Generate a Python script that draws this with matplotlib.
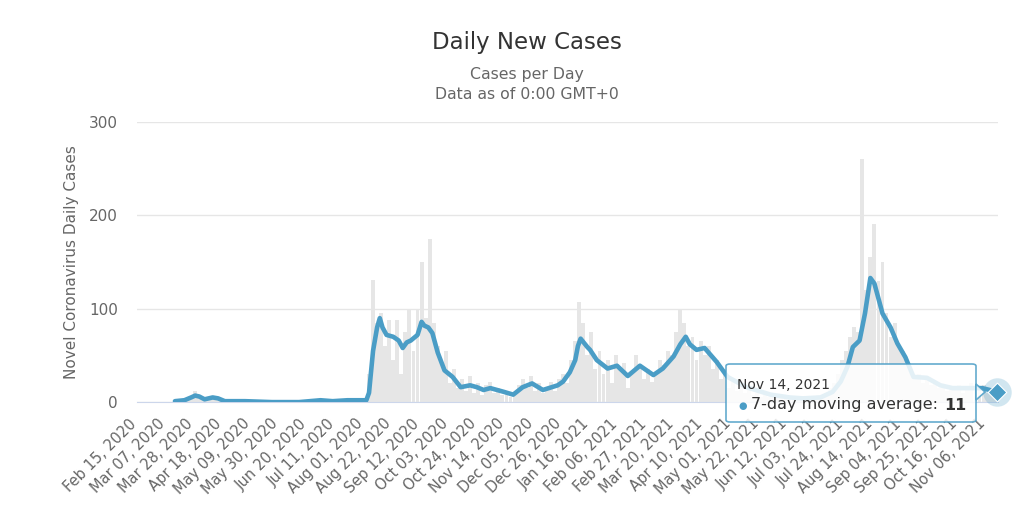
import numpy as np
import pandas as pd
import matplotlib
matplotlib.use('Agg')
import matplotlib.pyplot as plt
import matplotlib.transforms as mtransforms
from matplotlib.patches import FancyBboxPatch, Polygon

# data; days counted from start_date
start_date = '2020-02-15'
end_day = 638
bar_step = 3  # bars are 3-day bins
bar_values = [
    0, 0, 0, 0, 0, 0, 0, 0, 0, 0, 1, 2, 3, 6, 12, 5, 2, 4, 6, 3,
    2, 1, 1, 0, 1, 0, 0, 1, 0, 0, 0, 0, 1, 0, 0, 0, 0, 0, 0, 1,
    0, 0, 0, 0, 2, 1, 1, 2, 0, 1, 2, 1, 1, 2, 2, 1, 3, 30, 131, 85,
    95, 60, 88, 45, 88, 30, 75, 100, 55, 100, 150, 90, 175, 85, 60, 40, 55, 20, 35, 15,
    25, 12, 28, 10, 20, 8, 18, 22, 10, 15, 8, 12, 5, 10, 18, 25, 15, 28, 12, 20,
    10, 15, 22, 12, 25, 30, 20, 45, 65, 107, 85, 50, 75, 35, 55, 30, 45, 20, 50, 35,
    42, 15, 30, 50, 40, 25, 35, 22, 30, 45, 40, 55, 50, 75, 100, 85, 60, 70, 45, 65,
    50, 60, 35, 45, 25, 35, 15, 22, 12, 18, 10, 14, 8, 10, 6, 8, 5, 6, 4, 5,
    3, 5, 4, 3, 5, 3, 6, 4, 8, 6, 10, 15, 20, 30, 45, 55, 70, 80, 75, 260,
    120, 155, 191, 130, 150, 95, 70, 85, 60, 55, 40, 35, 25, 30, 20, 28, 18, 22, 15, 18,
    12, 16, 14, 18, 10, 15, 20, 12, 15, 18, 10, 14, 10,
]
ma_day = [28, 35, 40, 43, 46, 50, 56, 60, 65, 80, 100, 120, 136, 145, 156, 166,
          170, 172, 175, 178, 180, 182, 185, 190, 194, 197, 200, 203, 208, 211,
          213, 216, 219, 223, 228, 234, 240, 247, 252, 257, 262, 272, 279, 286,
          293, 301, 312, 316, 321, 325, 327, 329, 334, 336, 341, 349, 356, 364,
          373, 383, 390, 398, 403, 407, 410, 415, 421, 427, 430, 438, 452, 470,
          484, 494, 507, 516, 522, 527, 531, 536, 540, 544, 547, 553, 559, 564,
          570, 576, 586, 596, 605, 618, 627, 638]
ma_value = [1, 2, 5, 7, 6, 3, 5, 4, 1, 1, 0, 0, 2, 1, 2, 2,
            2, 10, 55, 80, 90, 80, 72, 70, 66, 58, 64, 66, 72, 86,
            82, 80, 74, 53, 34, 27, 16, 18, 16, 13, 15, 11, 8, 16,
            20, 13, 18, 22, 32, 45, 60, 68, 59, 56, 45, 36, 39, 28,
            39, 29, 36, 49, 62, 70, 62, 56, 58, 48, 43, 27, 16, 8,
            5, 4, 5, 11, 22, 38, 59, 66, 95, 133, 127, 95, 80, 63,
            48, 27, 26, 18, 15, 15, 15, 11]
y_ticks = [0, 100, 200, 300]
tick_step = 21

blue = '#4a9dc6'
grey_text = '#666666'

plt.rcParams['font.family'] = ['DejaVu Sans']

fig = plt.figure(figsize=(10.24, 5.09), dpi=100)
ax = fig.add_axes([0.134, 0.210, 0.841, 0.550])

bar_x = np.arange(len(bar_values)) * bar_step + 1
ax.bar(bar_x, bar_values, width=2.9, color='#e6e6e6', zorder=1)
ax.plot(ma_day, ma_value, color=blue, lw=3.3, solid_joinstyle='round',
        solid_capstyle='round', zorder=3)

# hovered point
ax.scatter([ma_day[-1]], [ma_value[-1]], s=420, color=blue, alpha=0.25,
           lw=0, zorder=4, clip_on=False)
ax.scatter([ma_day[-1]], [ma_value[-1]], s=90, marker='D', color=blue,
           edgecolor='white', lw=0.8, zorder=5, clip_on=False)

ax.set_xlim(0, end_day + 1)
ax.set_ylim(0, 300)
ax.set_yticks(y_ticks)
ax.yaxis.grid(True, color='#e6e6e6', lw=1)
ax.set_axisbelow(True)
for s in ['top', 'right', 'left']:
    ax.spines[s].set_visible(False)
ax.spines['bottom'].set_color('#ccd6eb')
ax.tick_params(axis='y', length=0, pad=14, labelsize=11, labelcolor=grey_text)

tick_days = np.arange(0, end_day, tick_step)
tick_labels = (pd.Timestamp(start_date) + pd.to_timedelta(tick_days, unit='D')).strftime('%b %d, %Y')
ax.set_xticks(tick_days)
ax.set_xticklabels(tick_labels, rotation=45, ha='right', va='top',
                   rotation_mode='anchor', fontsize=10.5, color=grey_text)
ax.tick_params(axis='x', length=0, pad=10)
shift = mtransforms.ScaledTranslation(-6 / 72, 0, fig.dpi_scale_trans)
for lbl in ax.get_xticklabels():
    lbl.set_transform(lbl.get_transform() + shift)

ax.set_ylabel('Novel Coronavirus Daily Cases', fontsize=11, color=grey_text, labelpad=7)

cx = 527 / 1024
fig.text(cx, 1 - 42 / 509, 'Daily New Cases', ha='center', va='center',
         fontsize=16.5, color='#333333')
fig.text(cx, 1 - 74 / 509, 'Cases per Day', ha='center', va='center',
         fontsize=11.3, color=grey_text)
fig.text(cx, 1 - 95 / 509, 'Data as of 0:00 GMT+0', ha='center', va='center',
         fontsize=11.3, color=grey_text)

# tooltip
W, H = 1024, 509
box = FancyBboxPatch((726 / W, 1 - 422 / H), 250 / W, 58 / H,
                     boxstyle='round,pad=0,rounding_size=0.004',
                     transform=fig.transFigure, facecolor='white', alpha=0.85,
                     edgecolor=blue, lw=1.2, zorder=10)
fig.add_artist(box)
arrow = Polygon([(976 / W, 1 - 384 / H), (985 / W, 1 - 392 / H), (976 / W, 1 - 400 / H)],
                closed=True, transform=fig.transFigure, facecolor='white',
                edgecolor=blue, lw=1.2, alpha=0.85, zorder=10)
fig.add_artist(arrow)
fig.text(737 / W, 1 - 385 / H, 'Nov 14, 2021', fontsize=10, color='#333333',
         va='center', zorder=11)
fig.text(738 / W, 1 - 406 / H, '\u25cf', fontsize=7, color=blue, va='center', zorder=11)
fig.text(751 / W, 1 - 405 / H, '7-day moving average: ', fontsize=11.5,
         color='#333333', va='center', zorder=11)
fig.text(944 / W, 1 - 405 / H, '11', fontsize=11.5, fontweight='bold',
         color='#333333', va='center', zorder=11)

fig.savefig('out.png', dpi=100)
